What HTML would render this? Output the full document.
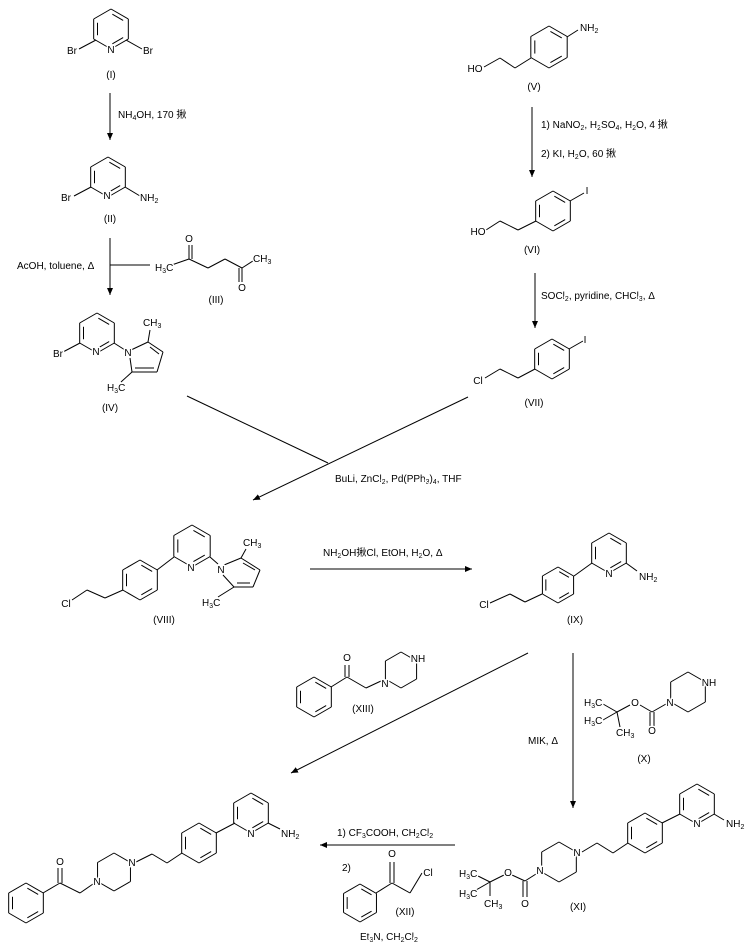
<!DOCTYPE html>
<html><head><meta charset="utf-8"><style>
html,body{margin:0;padding:0;background:#fff}
svg{display:block}
text{font-family:"Liberation Sans","Noto Sans CJK SC",sans-serif;font-size:10px;fill:#000;paint-order:stroke;stroke:#fff;stroke-width:3px;stroke-linejoin:round}
text.a{text-anchor:middle}
tspan.s{font-size:7px}
</style></head><body>
<svg id="s" width="751" height="944" viewBox="0 0 751 944" xmlns="http://www.w3.org/2000/svg">
<defs><marker id="ar" markerWidth="8" markerHeight="8" refX="7" refY="3" orient="auto" markerUnits="userSpaceOnUse"><path d="M0,0 L7,3 L0,6 z" fill="#000"/></marker></defs>
<g id="b" stroke="#000" stroke-width="1" fill="none"></g>
<g id="arrows" stroke="#000" stroke-width="1" fill="none">
<line x1="110" y1="93" x2="110" y2="140" marker-end="url(#ar)"/>
<line x1="110" y1="238" x2="110" y2="295" marker-end="url(#ar)"/>
<line x1="110" y1="265" x2="150" y2="265"/>
<line x1="532" y1="107" x2="532" y2="177" marker-end="url(#ar)"/>
<line x1="535" y1="273" x2="535" y2="328" marker-end="url(#ar)"/>
<line x1="187" y1="396" x2="328" y2="463"/>
<line x1="468" y1="397" x2="253" y2="500" marker-end="url(#ar)"/>
<line x1="310" y1="569" x2="472" y2="569" marker-end="url(#ar)"/>
<line x1="528" y1="653" x2="291" y2="773" marker-end="url(#ar)"/>
<line x1="573" y1="653" x2="573" y2="808" marker-end="url(#ar)"/>
<line x1="455" y1="845" x2="320" y2="845" marker-end="url(#ar)"/>
</g>
<g id="t">
<!-- I -->
<text x="72" y="54" class="a">Br</text><text x="111" y="53" class="a">N</text><text x="148" y="54" class="a">Br</text>
<text x="111" y="78" class="a">(I)</text>
<text x="118" y="118">NH<tspan class="s" dy="2">4</tspan><tspan dy="-2">OH, 170 揪</tspan></text>
<!-- II -->
<text x="66" y="201" class="a">Br</text><text x="107" y="199" class="a">N</text><text x="140" y="201">NH<tspan class="s" dy="2">2</tspan></text>
<text x="110" y="222" class="a">(II)</text>
<text x="17" y="269">AcOH, toluene, Δ</text>
<!-- III -->
<text x="155" y="271">H<tspan class="s" dy="2">3</tspan><tspan dy="-2">C</tspan></text>
<text x="189" y="242" class="a">O</text><text x="242" y="291" class="a">O</text>
<text x="253" y="262">CH<tspan class="s" dy="2">3</tspan></text>
<text x="216" y="303" class="a">(III)</text>
<!-- IV -->
<text x="58" y="357" class="a">Br</text><text x="96" y="355" class="a">N</text><text x="128" y="356" class="a">N</text>
<text x="143" y="326">CH<tspan class="s" dy="2">3</tspan></text>
<text x="107" y="391">H<tspan class="s" dy="2">3</tspan><tspan dy="-2">C</tspan></text>
<text x="110" y="411" class="a">(IV)</text>
<!-- V -->
<text x="580" y="31">NH<tspan class="s" dy="2">2</tspan></text>
<text x="475" y="72" class="a">HO</text>
<text x="534" y="90" class="a">(V)</text>
<text x="541" y="128">1) NaNO<tspan class="s" dy="2">2</tspan><tspan dy="-2">, H</tspan><tspan class="s" dy="2">2</tspan><tspan dy="-2">SO</tspan><tspan class="s" dy="2">4</tspan><tspan dy="-2">, H</tspan><tspan class="s" dy="2">2</tspan><tspan dy="-2">O, 4 揪</tspan></text>
<text x="541" y="157">2) KI, H<tspan class="s" dy="2">2</tspan><tspan dy="-2">O, 60 揪</tspan></text>
<!-- VI -->
<text x="587" y="194" class="a">I</text>
<text x="478" y="235" class="a">HO</text>
<text x="532" y="253" class="a">(VI)</text>
<text x="541" y="299">SOCl<tspan class="s" dy="2">2</tspan><tspan dy="-2">, pyridine, CHCl</tspan><tspan class="s" dy="2">3</tspan><tspan dy="-2">, Δ</tspan></text>
<!-- VII -->
<text x="585" y="343" class="a">I</text>
<text x="478" y="384" class="a">Cl</text>
<text x="534" y="406" class="a">(VII)</text>
<text x="335" y="482">BuLi, ZnCl<tspan class="s" dy="2">2</tspan><tspan dy="-2">, Pd(PPh</tspan><tspan class="s" dy="2">3</tspan><tspan dy="-2">)</tspan><tspan class="s" dy="2">4</tspan><tspan dy="-2">, THF</tspan></text>
<!-- VIII -->
<text x="191" y="571" class="a">N</text><text x="221" y="573" class="a">N</text>
<text x="243" y="546">CH<tspan class="s" dy="2">3</tspan></text>
<text x="202" y="606">H<tspan class="s" dy="2">3</tspan><tspan dy="-2">C</tspan></text>
<text x="66" y="607" class="a">Cl</text>
<text x="164" y="623" class="a">(VIII)</text>
<text x="323" y="556">NH<tspan class="s" dy="2">2</tspan><tspan dy="-2">OH揪Cl, EtOH, H</tspan><tspan class="s" dy="2">2</tspan><tspan dy="-2">O, Δ</tspan></text>
<!-- IX -->
<text x="609" y="577" class="a">N</text><text x="639" y="580">NH<tspan class="s" dy="2">2</tspan></text>
<text x="484" y="608" class="a">Cl</text>
<text x="575" y="623" class="a">(IX)</text>
<!-- XIII -->
<text x="347" y="661" class="a">O</text><text x="385" y="687" class="a">N</text><text x="418" y="662" class="a">NH</text>
<text x="363" y="712" class="a">(XIII)</text>
<!-- X -->
<text x="670" y="706" class="a">N</text><text x="709" y="686" class="a">NH</text>
<text x="635" y="706" class="a">O</text><text x="652" y="734" class="a">O</text>
<text x="584" y="706">H<tspan class="s" dy="2">3</tspan><tspan dy="-2">C</tspan></text>
<text x="584" y="724">H<tspan class="s" dy="2">3</tspan><tspan dy="-2">C</tspan></text>
<text x="616" y="736">CH<tspan class="s" dy="2">3</tspan></text>
<text x="644" y="762" class="a">(X)</text>
<text x="543" y="744" class="a">MIK, Δ</text>
<!-- XI -->
<text x="697" y="827" class="a">N</text><text x="726" y="827">NH<tspan class="s" dy="2">2</tspan></text>
<text x="577" y="856" class="a">N</text><text x="540" y="874" class="a">N</text>
<text x="508" y="876" class="a">O</text><text x="525" y="907" class="a">O</text>
<text x="459" y="877">H<tspan class="s" dy="2">3</tspan><tspan dy="-2">C</tspan></text>
<text x="459" y="897">H<tspan class="s" dy="2">3</tspan><tspan dy="-2">C</tspan></text>
<text x="484" y="907">CH<tspan class="s" dy="2">3</tspan></text>
<text x="578" y="910" class="a">(XI)</text>
<!-- arrow conditions -->
<text x="337" y="836">1) CF<tspan class="s" dy="2">3</tspan><tspan dy="-2">COOH, CH</tspan><tspan class="s" dy="2">2</tspan><tspan dy="-2">Cl</tspan><tspan class="s" dy="2">2</tspan></text>
<text x="342" y="871">2)</text>
<text x="392" y="857" class="a">O</text><text x="428" y="876" class="a">Cl</text>
<text x="405" y="915" class="a">(XII)</text>
<text x="360" y="940">Et<tspan class="s" dy="2">3</tspan><tspan dy="-2">N, CH</tspan><tspan class="s" dy="2">2</tspan><tspan dy="-2">Cl</tspan><tspan class="s" dy="2">2</tspan></text>
<!-- product -->
<text x="251" y="837" class="a">N</text><text x="281" y="837">NH<tspan class="s" dy="2">2</tspan></text>
<text x="132" y="866" class="a">N</text><text x="97" y="885" class="a">N</text>
<text x="60" y="865" class="a">O</text>
</g>
</svg>
<script>
var g=document.getElementById('b'),NS='http://www.w3.org/2000/svg';
function L(a,b,c,d){var l=document.createElementNS(NS,'line');l.setAttribute('x1',a);l.setAttribute('y1',b);l.setAttribute('x2',c);l.setAttribute('y2',d);g.appendChild(l);}
function P(pts){for(var i=0;i<pts.length-2;i+=2)L(pts[i],pts[i+1],pts[i+2],pts[i+3]);}
function ring(cx,cy,r,dbl){var v=[];for(var k=0;k<6;k++){var a=(-90+60*k)*Math.PI/180;v.push([cx+r*Math.cos(a),cy+r*Math.sin(a)]);}
for(k=0;k<6;k++){var p=v[k],q=v[(k+1)%6];L(p[0],p[1],q[0],q[1]);}
(dbl||[]).forEach(function(k){var p=v[k],q=v[(k+1)%6],f=0.78;var x1=cx+(p[0]-cx)*f,y1=cy+(p[1]-cy)*f,x2=cx+(q[0]-cx)*f,y2=cy+(q[1]-cy)*f;var mx=(x1+x2)/2,my=(y1+y2)/2;L(mx+(x1-mx)*0.8,my+(y1-my)*0.8,mx+(x2-mx)*0.8,my+(y2-my)*0.8);});return v;}
var py=[0,2,4],bz=[0,2,4];
// I
ring(111,29,20,py);L(96,40,79,49);L(126,40,142,49);
// II
ring(108,177,20,py);L(91,187,74,196);L(125,187,140,196);
// III
P([163,268,189,259,208,268,225,259,242,268,256,259]);L(189,259,189,245);L(192,259,192,245);L(242,268,242,282);L(239,268,239,282);
// IV
ring(97,333,20,py);L(80,343,63,352);L(114,343,125,350);
P([131,350,148,342,163,352,157,372,132,372,130,358]);L(150,347,159,354);L(135,368,154,368);L(148,342,150,330);L(132,372,121,382);
// V
ring(549,47,21,[0,2,4]);L(567,37,578,30);P([531,58,515,68,500,58,484,67]);
// VI
ring(553,211,20,bz);L(570,201,584,193);P([536,221,518,230,500,221,486,230]);
// VII
ring(552,359,20,bz);L(569,349,583,341);P([535,369,518,378,500,369,485,378]);
// VIII
ring(192,546,21,py);ring(140,580,20,bz);L(157,570,174,557);
P([123,590,105,598,87,590,72,600]);L(210,557,218,564);
P([224,565,241,558,260,570,253,587,234,587,223,575]);L(243,563,255,570);L(237,583,250,583);L(241,558,246,549);L(234,587,218,597);
// IX
ring(609,553,20,py);ring(558,585,18,bz);L(574,576,592,563);L(626,563,637,571);P([542,594,525,602,510,594,490,603]);
// XIII
ring(314,697,20,[0,2,4]);P([331,687,347,677,366,688,381,681]);L(345,677,345,665);L(349,677,349,665);
ring(401,670,18);
// X
ring(688,692,20);P([666,704,652,712,640,705]);L(650,712,650,726);L(654,712,654,726);P([630,705,617,712,603,704]);L(617,712,603,720);L(617,712,620,727);
// XI
ring(697,804,20,py);ring(645,833,20,bz);L(662,823,680,814);L(714,814,724,820);
P([628,843,613,853,597,843,582,852]);ring(559,862,20);
P([536,874,525,881,512,875]);L(523,881,523,897);L(527,881,527,897);P([504,875,490,882,476,875]);L(490,882,476,890);L(490,882,490,896);
// XII
ring(360,903,19,[0,2,4]);P([376,893,392,883,410,893,422,873]);L(390,883,390,862);L(394,883,394,862);
// product
ring(251,813,20,py);ring(199,843,20,bz);L(216,833,235,823);L(268,823,280,829);
P([182,853,167,863,152,854,136,862]);ring(114,872,19);
P([93,884,80,893,60,883,43,893]);L(58,883,58,868);L(62,883,62,868);
ring(26,903,20,[0,2,4]);
</script>
</body></html>
